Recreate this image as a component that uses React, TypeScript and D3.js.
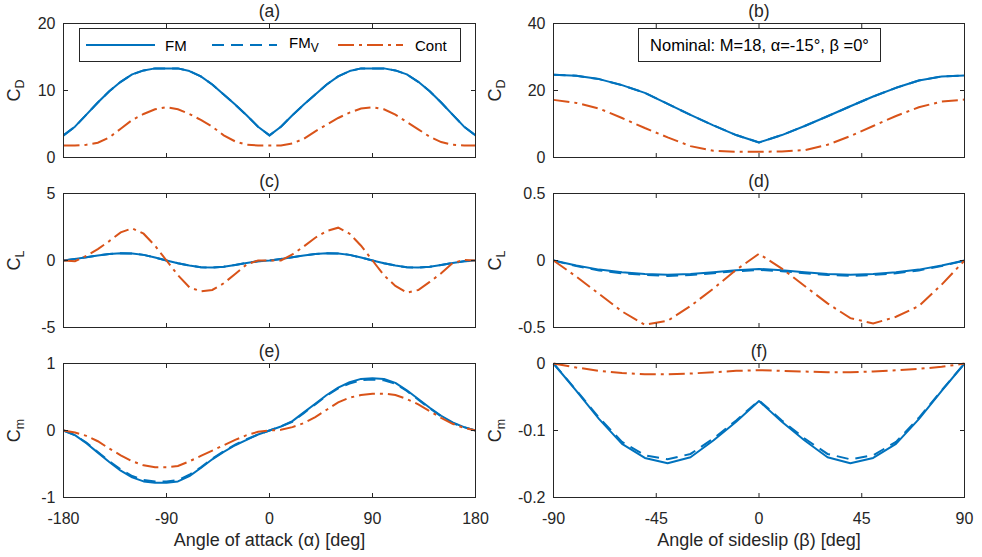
import React from 'react';
import * as d3 from 'd3';

// ---------- data ----------
const alphaDeg = [-180, -170, -160, -150, -140, -130, -120, -110, -100, -90, -80, -70, -60, -50, -40, -30, -20, -10, 0,
  10, 20, 30, 40, 50, 60, 70, 80, 90, 100, 110, 120, 130, 140, 150, 160, 170, 180];
const betaDeg = [-90, -80, -70, -60, -50, -40, -30, -20, -10, 0, 10, 20, 30, 40, 50, 60, 70, 80, 90];

const alphaTicks = [-180, -90, 0, 90, 180];
const betaTicks = [-90, -45, 0, 45, 90];

// (a) CD vs alpha
const cdAlphaFM = [3.3, 4.6, 6.4, 8.2, 9.9, 11.3, 12.4, 13.0, 13.3, 13.3, 13.3, 12.9, 12.1, 10.9, 9.4, 7.9, 6.3, 4.6, 3.3,
  4.6, 6.3, 7.9, 9.4, 10.9, 12.1, 12.9, 13.3, 13.3, 13.3, 13.0, 12.4, 11.3, 9.9, 8.2, 6.4, 4.6, 3.3];
const cdAlphaFMv = [3.3, 4.6, 6.4, 8.2, 9.9, 11.3, 12.4, 13.0, 13.3, 13.3, 13.3, 12.9, 12.1, 10.9, 9.4, 7.9, 6.3, 4.6, 3.3,
  4.6, 6.3, 7.9, 9.4, 10.9, 12.1, 12.9, 13.3, 13.3, 13.3, 13.0, 12.4, 11.3, 9.9, 8.2, 6.4, 4.6, 3.3];
const cdAlphaCont = [1.8, 1.8, 1.9, 2.2, 3.0, 4.3, 5.6, 6.5, 7.2, 7.5, 7.2, 6.5, 5.6, 4.6, 3.3, 2.4, 1.9, 1.8, 1.8,
  1.8, 2.1, 2.8, 3.9, 4.9, 5.9, 6.7, 7.3, 7.5, 7.2, 6.4, 5.3, 4.2, 3.1, 2.3, 1.9, 1.8, 1.8];

// (b) CD vs beta
const cdBetaFM = [24.7, 24.4, 23.4, 21.6, 19.3, 16.0, 12.7, 9.6, 6.7, 4.5, 6.7, 9.4, 12.3, 15.3, 18.2, 20.8, 23.0, 24.2, 24.5];
const cdBetaFMv = [24.7, 24.4, 23.4, 21.6, 19.3, 16.0, 12.7, 9.6, 6.7, 4.5, 6.7, 9.4, 12.3, 15.3, 18.2, 20.8, 23.0, 24.2, 24.5];
const cdBetaCont = [17.2, 16.3, 14.6, 11.8, 8.8, 6.0, 3.4, 2.0, 1.7, 1.7, 1.8, 2.2, 3.8, 6.4, 9.4, 12.4, 15.0, 16.7, 17.3];

// (c) CL vs alpha
const clAlphaFM = [0, 0.12, 0.25, 0.38, 0.48, 0.55, 0.53, 0.42, 0.22, 0, -0.2, -0.38, -0.5, -0.53, -0.47, -0.33, -0.18, -0.06, 0,
  0.12, 0.25, 0.38, 0.48, 0.55, 0.53, 0.42, 0.22, 0, -0.2, -0.38, -0.5, -0.53, -0.47, -0.33, -0.18, -0.06, 0];
const clAlphaFMv = [0, 0.12, 0.25, 0.38, 0.48, 0.55, 0.53, 0.42, 0.22, 0, -0.2, -0.38, -0.5, -0.53, -0.47, -0.33, -0.18, -0.06, 0,
  0.12, 0.25, 0.38, 0.48, 0.55, 0.53, 0.42, 0.22, 0, -0.2, -0.38, -0.5, -0.53, -0.47, -0.33, -0.18, -0.06, 0];
const clAlphaCont = [0, -0.05, 0.35, 0.85, 1.45, 2.1, 2.4, 2.0, 1.1, 0, -1.1, -2.0, -2.3, -2.2, -1.7, -1.0, -0.3, 0, 0,
  0, 0.45, 1.05, 1.7, 2.2, 2.45, 2.0, 1.1, 0, -1.1, -1.9, -2.4, -2.2, -1.6, -0.95, -0.2, 0.05, 0];

// (d) CL vs beta
const clBetaFM = [0, -0.038, -0.068, -0.088, -0.1, -0.107, -0.1, -0.087, -0.073, -0.063, -0.073, -0.087, -0.1, -0.107, -0.1, -0.088, -0.068, -0.038, 0];
const clBetaFMv = [0, -0.042, -0.074, -0.095, -0.108, -0.115, -0.108, -0.095, -0.08, -0.07, -0.08, -0.095, -0.108, -0.115, -0.108, -0.095, -0.074, -0.042, 0];
const clBetaCont = [0, -0.12, -0.25, -0.38, -0.48, -0.45, -0.34, -0.21, -0.07, 0.05, -0.06, -0.19, -0.32, -0.43, -0.47, -0.42, -0.34, -0.18, 0];

// (e) Cm vs alpha
const cmAlphaFM = [0, -0.07, -0.19, -0.33, -0.47, -0.6, -0.7, -0.76, -0.78, -0.78, -0.76, -0.68, -0.56, -0.43, -0.32, -0.22, -0.14, -0.06, 0,
  0.06, 0.14, 0.27, 0.4, 0.53, 0.64, 0.72, 0.77, 0.78, 0.77, 0.71, 0.6, 0.47, 0.34, 0.22, 0.12, 0.05, 0];
const cmAlphaFMv = [0, -0.07, -0.18, -0.32, -0.46, -0.58, -0.68, -0.74, -0.76, -0.76, -0.74, -0.66, -0.55, -0.42, -0.31, -0.21, -0.13, -0.06, 0,
  0.06, 0.13, 0.26, 0.39, 0.52, 0.63, 0.7, 0.75, 0.76, 0.75, 0.7, 0.59, 0.46, 0.33, 0.21, 0.11, 0.05, 0];
const cmAlphaCont = [0, -0.03, -0.08, -0.16, -0.27, -0.37, -0.46, -0.52, -0.55, -0.55, -0.53, -0.46, -0.38, -0.3, -0.22, -0.14, -0.07, -0.02, 0,
  0.01, 0.05, 0.11, 0.2, 0.31, 0.42, 0.49, 0.53, 0.55, 0.55, 0.53, 0.47, 0.39, 0.29, 0.19, 0.1, 0.04, 0];

// (f) Cm vs beta
const cmBetaFM = [0, -0.041, -0.083, -0.12, -0.141, -0.149, -0.14, -0.115, -0.087, -0.056, -0.087, -0.115, -0.14, -0.149, -0.141, -0.12, -0.083, -0.041, 0];
const cmBetaFMv = [0, -0.04, -0.081, -0.117, -0.137, -0.143, -0.135, -0.112, -0.085, -0.055, -0.085, -0.112, -0.135, -0.143, -0.137, -0.117, -0.081, -0.04, 0];
const cmBetaCont = [0, -0.006, -0.011, -0.014, -0.016, -0.016, -0.015, -0.013, -0.011, -0.01, -0.011, -0.012, -0.013, -0.013, -0.012, -0.01, -0.008, -0.005, 0];

const seriesNames = ['FM', 'FM', 'Cont'];

// ---------- style ----------
const BLUE = '#0072BD';
const ORANGE = '#D95319';
const AX = '#262626';
const FONT = '"Liberation Sans", Arial, Helvetica, sans-serif';
const TICK_FS = 16;
const LABEL_FS = 18;
const DASH = '12,7';
const DASHDOT = '16,5,3,5';

type Box = { l: number; r: number; t: number; b: number };

type PanelProps = {
  box: Box;
  xs: number[];
  xDomain: [number, number];
  xTicks: number[];
  yDomain: [number, number];
  yTicks: number[];
  fm: number[];
  fmv: number[];
  cont: number[];
  title: string;
  sub: string;
  labelX: number;
  xLabel?: string;
};

function Panel(p: PanelProps) {
  const { box } = p;
  const x = d3.scaleLinear().domain(p.xDomain).range([box.l, box.r]);
  const y = d3.scaleLinear().domain(p.yDomain).range([box.b, box.t]);
  const mk = (vals: number[]) =>
    d3.line<number>().x((_, i) => x(p.xs[i])).y((d) => y(d))(vals) || '';
  const tl = 4.5;
  const cy = (box.t + box.b) / 2;
  return (
    <g>
      {/* frame */}
      <rect x={box.l} y={box.t} width={box.r - box.l} height={box.b - box.t} fill="white" stroke="none" />
      {/* curves */}
      <path d={mk(p.fm)} fill="none" stroke={BLUE} strokeWidth={2} strokeLinejoin="round" />
      <path d={mk(p.fmv)} fill="none" stroke={BLUE} strokeWidth={2} strokeDasharray={DASH} />
      <path d={mk(p.cont)} fill="none" stroke={ORANGE} strokeWidth={2} strokeDasharray={DASHDOT} />
      <rect x={box.l} y={box.t} width={box.r - box.l} height={box.b - box.t} fill="none" stroke={AX} strokeWidth={1} />
      {/* x ticks */}
      {p.xTicks.map((t) => (
        <g key={'x' + t}>
          <line x1={x(t)} x2={x(t)} y1={box.b} y2={box.b - tl} stroke={AX} />
          <line x1={x(t)} x2={x(t)} y1={box.t} y2={box.t + tl} stroke={AX} />
          {p.xLabel && (
            <text x={x(t)} y={box.b + 26} textAnchor="middle" fontSize={TICK_FS} fill={AX} fontFamily={FONT}>
              {String(t)}
            </text>
          )}
        </g>
      ))}
      {/* y ticks */}
      {p.yTicks.map((t) => (
        <g key={'y' + t}>
          <line x1={box.l} x2={box.l + tl} y1={y(t)} y2={y(t)} stroke={AX} />
          <line x1={box.r} x2={box.r - tl} y1={y(t)} y2={y(t)} stroke={AX} />
          <text x={box.l - 8} y={y(t) + 5.5} textAnchor="end" fontSize={TICK_FS} fill={AX} fontFamily={FONT}>
            {String(t)}
          </text>
        </g>
      ))}
      {/* title */}
      <text x={(box.l + box.r) / 2} y={box.t - 6.5} textAnchor="middle" fontSize={17.5} fill={AX} fontFamily={FONT}>
        {p.title}
      </text>
      {/* y label */}
      <text transform={`translate(${p.labelX},${cy}) rotate(-90)`} textAnchor="middle" fontSize={LABEL_FS} fill={AX} fontFamily={FONT}>
        C<tspan fontSize={12.5} dy={4}>{p.sub}</tspan>
      </text>
      {p.xLabel && (
        <text x={(box.l + box.r) / 2} y={546} textAnchor="middle" fontSize={LABEL_FS} fill={AX} fontFamily={FONT}>
          {p.xLabel}
        </text>
      )}
    </g>
  );
}

export default function App() {
  const L = { l: 63.5, r: 475.5 };
  const R = { l: 553.5, r: 964.5 };
  const rows = [
    { t: 23.5, b: 157.5 },
    { t: 193.5, b: 327.5 },
    { t: 363.5, b: 497.5 },
  ];
  return (
    <svg width={982} height={557} style={{ position: 'absolute', left: 0, top: 0, background: 'white' }} fontFamily={FONT}>
      <rect x={0} y={0} width={982} height={557} fill="white" />
      <Panel box={{ ...L, ...rows[0] }} xs={alphaDeg} xDomain={[-180, 180]} xTicks={alphaTicks} yDomain={[0, 20]} yTicks={[0, 10, 20]}
        fm={cdAlphaFM} fmv={cdAlphaFMv} cont={cdAlphaCont} title="(a)" sub="D" labelX={20} />
      <Panel box={{ ...R, ...rows[0] }} xs={betaDeg} xDomain={[-90, 90]} xTicks={betaTicks} yDomain={[0, 40]} yTicks={[0, 20, 40]}
        fm={cdBetaFM} fmv={cdBetaFMv} cont={cdBetaCont} title="(b)" sub="D" labelX={501} />
      <Panel box={{ ...L, ...rows[1] }} xs={alphaDeg} xDomain={[-180, 180]} xTicks={alphaTicks} yDomain={[-5, 5]} yTicks={[-5, 0, 5]}
        fm={clAlphaFM} fmv={clAlphaFMv} cont={clAlphaCont} title="(c)" sub="L" labelX={20} />
      <Panel box={{ ...R, ...rows[1] }} xs={betaDeg} xDomain={[-90, 90]} xTicks={betaTicks} yDomain={[-0.5, 0.5]} yTicks={[-0.5, 0, 0.5]}
        fm={clBetaFM} fmv={clBetaFMv} cont={clBetaCont} title="(d)" sub="L" labelX={501} />
      <Panel box={{ ...L, ...rows[2] }} xs={alphaDeg} xDomain={[-180, 180]} xTicks={alphaTicks} yDomain={[-1, 1]} yTicks={[-1, 0, 1]}
        fm={cmAlphaFM} fmv={cmAlphaFMv} cont={cmAlphaCont} title="(e)" sub="m" labelX={20} xLabel="Angle of attack (α) [deg]" />
      <Panel box={{ ...R, ...rows[2] }} xs={betaDeg} xDomain={[-90, 90]} xTicks={betaTicks} yDomain={[-0.2, 0]} yTicks={[-0.2, -0.1, 0]}
        fm={cmBetaFM} fmv={cmBetaFMv} cont={cmBetaCont} title="(f)" sub="m" labelX={501} xLabel="Angle of sideslip (β) [deg]" />

      {/* legend */}
      <g fontFamily={FONT} fontSize={15} fill="black">
        <rect x={79.5} y={28.5} width={381} height={33} fill="white" stroke={AX} strokeWidth={1} />
        <line x1={86} x2={155} y1={45} y2={45} stroke={BLUE} strokeWidth={2} />
        <text x={165} y={50.5}>{seriesNames[0]}</text>
        <line x1={212} x2={277} y1={45} y2={45} stroke={BLUE} strokeWidth={2} strokeDasharray={DASH} />
        <text x={289} y={48}>{seriesNames[1]}<tspan fontSize={12} dy={4}>V</tspan></text>
        <line x1={338} x2={403} y1={45} y2={45} stroke={ORANGE} strokeWidth={2} strokeDasharray={DASHDOT} />
        <text x={415} y={50.5}>{seriesNames[2]}</text>
      </g>

      {/* annotation */}
      <g fontFamily={FONT}>
        <rect x={638.5} y={28.5} width={242} height={33} fill="white" stroke={AX} strokeWidth={1} />
        <text x={759.5} y={51} textAnchor="middle" fontSize={16.5} fill="black">
          Nominal: M=18, α=-15°, β =0°
        </text>
      </g>
    </svg>
  );
}
